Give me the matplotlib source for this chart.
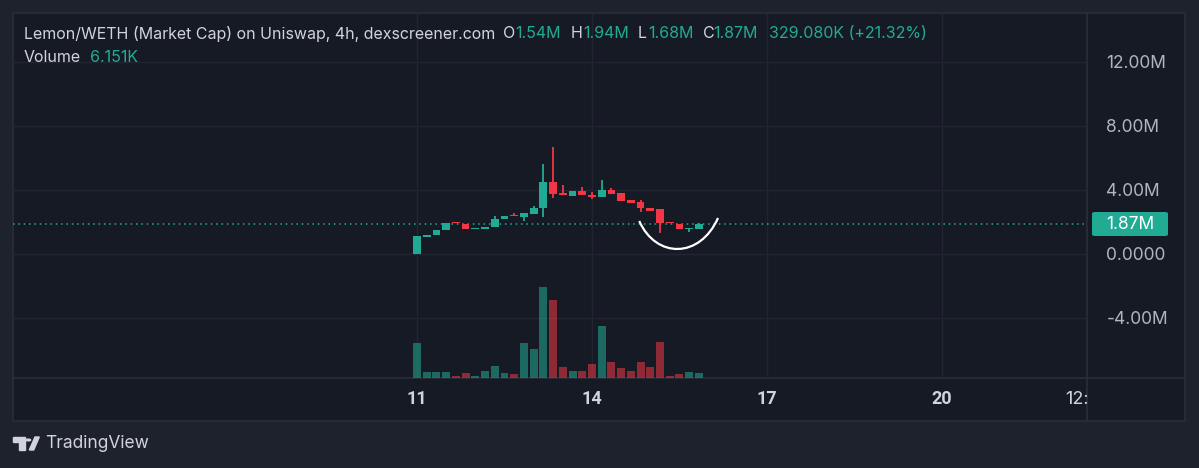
import matplotlib
matplotlib.use('Agg')
import matplotlib.pyplot as plt
from matplotlib.patches import Rectangle, Polygon, Circle, PathPatch, FancyBboxPatch
from matplotlib.path import Path
from matplotlib.ticker import FuncFormatter

# 4h candles, x in days of the month, prices in millions
start_day = 11
bar_days = 1 / 6
opens = [0.02, 1.08, 1.19, 1.50, 1.96, 1.87, 1.58, 1.54, 1.67, 2.17,
         2.46, 2.29, 2.50, 2.87, 4.50, 3.79, 3.65, 3.94, 3.67, 3.54,
         4.00, 3.79, 3.35, 3.25, 2.90, 2.79, 2.00, 1.87, 1.54, 1.54]
highs = [1.14, 1.20, 1.50, 1.92, 2.00, 1.87, 1.62, 1.70, 2.40, 2.40,
         2.54, 2.54, 3.00, 5.62, 6.70, 4.30, 3.94, 4.20, 3.85, 4.62,
         4.10, 3.79, 3.35, 3.40, 2.90, 2.79, 2.00, 1.87, 1.63, 1.94]
lows = [0.00, 1.08, 1.19, 1.50, 1.92, 1.54, 1.58, 1.54, 1.67, 2.17,
        2.37, 2.08, 2.50, 2.33, 3.48, 3.67, 3.65, 3.67, 3.42, 3.54,
        3.75, 3.33, 3.20, 2.60, 2.70, 1.29, 1.92, 1.54, 1.38, 1.54]
closes = [1.12, 1.19, 1.49, 1.92, 1.92, 1.54, 1.61, 1.70, 2.19, 2.40,
          2.37, 2.54, 2.87, 4.50, 3.75, 3.67, 3.94, 3.67, 3.54, 4.00,
          3.75, 3.33, 3.20, 2.85, 2.70, 1.96, 1.92, 1.54, 1.60, 1.87]
volumes = [40.6, 7.3, 7.3, 7.3, 2.3, 6.2, 2.0, 7.8, 13.9, 5.4,
           4.6, 40.6, 33.6, 105.2, 90.5, 13.1, 8.5, 8.5, 16.2, 60.0,
           18.2, 11.6, 8.5, 18.9, 13.1, 41.4, 2.7, 4.6, 7.0, 6.151]

price_ticks = [-4, 0, 4, 8, 12]
day_ticks = [11, 14, 17, 20]
last_price = 1.87

# smile drawn on the chart (days, price)
smile_x = [14.81, 15.10, 15.85, 16.16]
smile_y = [2.06, -0.30, -0.30, 2.25]

W, H = 1199, 468
BG_OUT = '#1e222d'
BG_IN = '#161a25'
BORDER = '#2a2e39'
GRID = '#222531'
UP = '#22ab94'
DOWN = '#f23645'
TEXT = '#d1d4dc'

plt.rcParams['font.family'] = ['Inter', 'DejaVu Sans']

fig = plt.figure(figsize=(W / 100, H / 100), dpi=100, facecolor=BG_OUT)


def fx(x):
    return x / W


def fy(y):
    return 1 - y / H


# panel background and borders
fig.patches.append(Rectangle((fx(13), fy(421)), fx(1185) - fx(13), fy(13) - fy(421),
                             transform=fig.transFigure, facecolor=BG_IN,
                             edgecolor=BORDER, lw=1.2, zorder=0))
fig.add_artist(plt.Line2D([fx(1087), fx(1087)], [fy(13), fy(421)], color=BORDER, lw=1.2, zorder=0.5))
fig.add_artist(plt.Line2D([fx(13), fx(1185)], [fy(378), fy(378)], color=BORDER, lw=1.2, zorder=0.5))

rect = [fx(13), fy(378), fx(1087) - fx(13), fy(13) - fy(378)]
x_lo = start_day - 404 / 58.33
x_hi = start_day + 670 / 58.33

# price pane (grid, candles, axis labels)
ax = fig.add_axes(rect, facecolor='none')
ax.set_zorder(2)
ax.set_xlim(x_lo, x_hi)
ax.set_ylim(-7.75, 15.06)
for s in ax.spines.values():
    s.set_visible(False)

ax.yaxis.tick_right()
ax.set_yticks(price_ticks)
ax.yaxis.set_major_formatter(FuncFormatter(lambda v, p: '0.0000' if v == 0 else f'{v:.2f}M'))
ax.tick_params(axis='y', length=0, pad=14, labelsize=12.5, labelcolor='#b2b5be')
ax.set_xticks(day_ticks)
ax.set_xticklabels([str(d) for d in day_ticks], fontweight='bold', family=['Roboto', 'DejaVu Sans'])
ax.set_xticks([22.31], minor=True)
ax.set_xticklabels(['12:'], minor=True)
ax.tick_params(axis='x', which='both', length=0, pad=9, labelsize=13, labelcolor=TEXT)
ax.grid(True, which='major', color=GRID, lw=1)
ax.set_axisbelow(True)

xs = [start_day + i * bar_days for i in range(len(closes))]

for x, o, h, l, c in zip(xs, opens, highs, lows, closes):
    col = UP if c >= o else DOWN
    ax.vlines(x, l, h, color=col, lw=1.3, zorder=3)
    body = max(abs(c - o), 0.06)
    ax.bar(x, body, bottom=min(o, c), width=bar_days * 0.8, color=col, lw=0, zorder=4)

# last price line
ax.axhline(last_price, color=UP, lw=1.1, ls=(0, (1, 2.5)), zorder=2)

# hand-drawn smile
verts = list(zip(smile_x, smile_y))
ax.add_patch(PathPatch(Path(verts, [Path.MOVETO, Path.CURVE4, Path.CURVE4, Path.CURVE4]),
                       facecolor='none', edgecolor='white', lw=1.6, zorder=5))

# volume pane, above the grid
axv = fig.add_axes(rect, facecolor='none')
axv.set_zorder(3)
vcols = [UP if c >= o else DOWN for o, c in zip(opens, closes)]
axv.bar(xs, volumes, width=bar_days * 0.82, color=vcols, alpha=0.55, lw=0)
axv.set_xlim(x_lo, x_hi)
axv.set_ylim(0, 365 * 6.151 / 5.3)
axv.axis('off')

# price label on the axis
fig.patches.append(FancyBboxPatch((fx(1092), fy(236)), fx(1168) - fx(1092), fy(212) - fy(236),
                                  boxstyle='round,pad=0,rounding_size=0.003',
                                  transform=fig.transFigure, facecolor=UP, edgecolor='none', zorder=5))
fig.text(fx(1130), fy(224), f'{last_price:.2f}M', color='white', fontsize=12.5,
         ha='center', va='center', zorder=6)

# legend header
fs = 11.5
fig.text(fx(24), fy(34), 'Lemon/WETH (Market Cap) on Uniswap, 4h, dexscreener.com',
         color=TEXT, fontsize=fs, va='center', zorder=6)
pieces = [(503, 'O', TEXT), (515, f'{opens[-1]:.2f}M', UP),
          (571, 'H', TEXT), (583, '1.94M', UP),
          (638, 'L', TEXT), (648, '1.68M', UP),
          (703, 'C', TEXT), (713, f'{closes[-1]:.2f}M', UP),
          (769, '329.080K (+21.32%)', UP)]
for x, s, c in pieces:
    fig.text(fx(x), fy(34), s, color=c, fontsize=fs, va='center', zorder=6)
fig.text(fx(24), fy(58), 'Volume', color=TEXT, fontsize=fs, va='center', zorder=6)
fig.text(fx(90), fy(58), f'{volumes[-1]:.3f}K', color=UP, fontsize=fs, va='center', zorder=6)

# TradingView logo
logo = '#d1d4dc'
fig.patches.append(Polygon([(fx(13.3), fy(437)), (fx(25), fy(437)), (fx(25), fy(450)),
                            (fx(19), fy(450)), (fx(19), fy(441.7)), (fx(13.3), fy(441.7))],
                           closed=True, transform=fig.transFigure, color=logo))
fig.patches.append(Circle((fx(28.3), fy(440)), 2.3 / W, transform=fig.transFigure, color=logo))
fig.patches.append(Polygon([(fx(29.3), fy(450)), (fx(35), fy(437)), (fx(39.3), fy(437)),
                            (fx(33.7), fy(450))], closed=True, transform=fig.transFigure, color=logo))
fig.text(fx(45), fy(444), 'TradingView', color=logo, fontsize=12.5, va='center')

fig.savefig('out.png', dpi=100, facecolor=BG_OUT)
